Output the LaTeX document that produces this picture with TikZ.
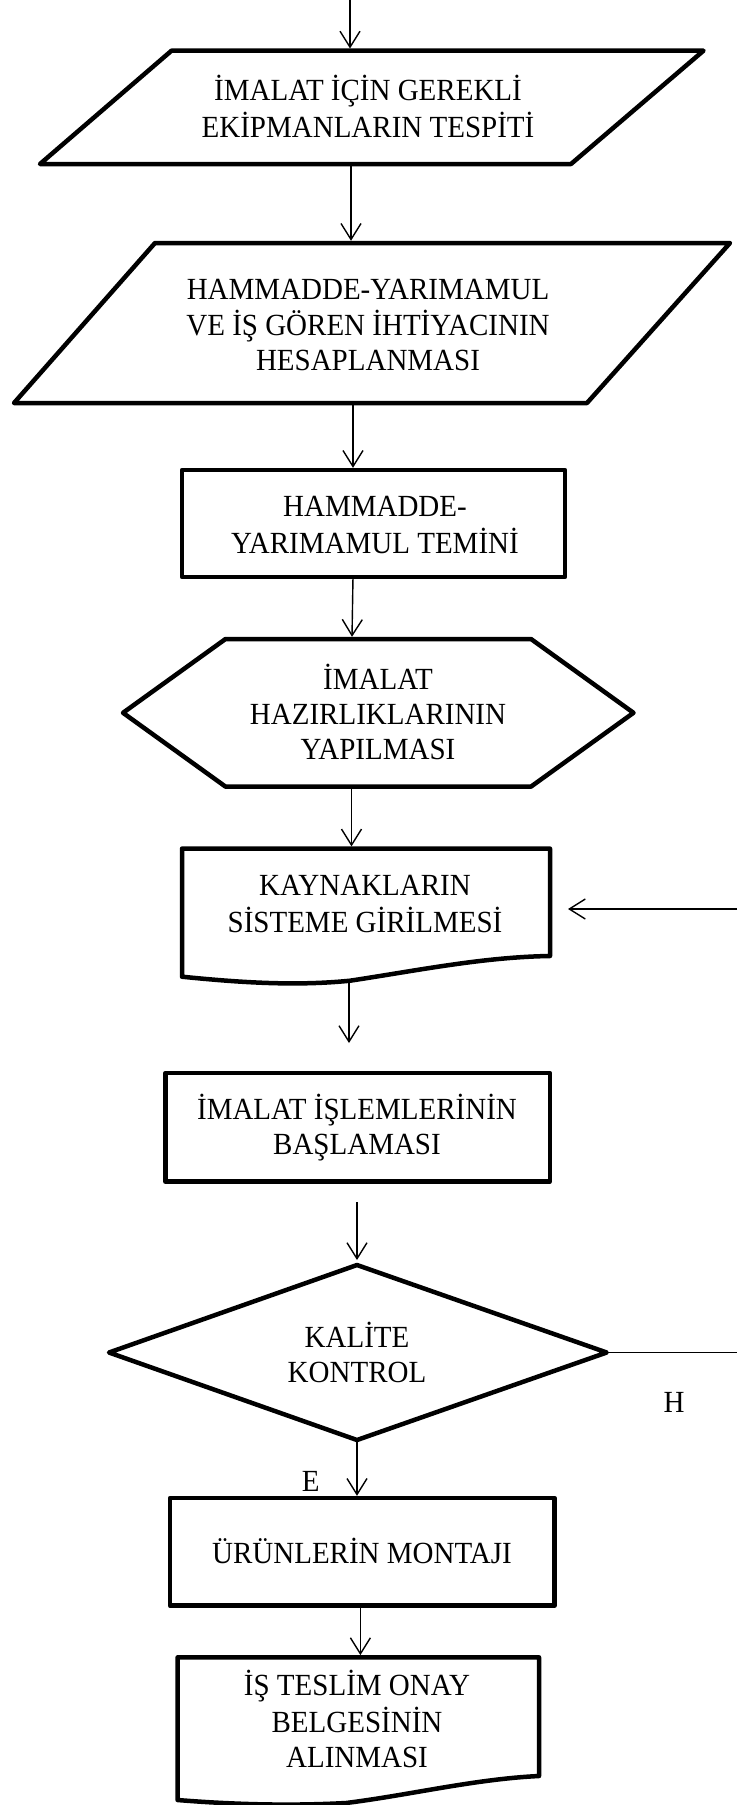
\documentclass[tikz,border=0pt]{standalone}
\usepackage{fontspec}
\setmainfont{Liberation Serif}
\usetikzlibrary{arrows.meta}
\begin{document}
\begin{tikzpicture}[x=1pt,y=-1pt,
  outline/.style={line width=4.5pt, line join=round},
  conn/.style={line width=1.4pt, -{Straight Barb[length=16pt,width=20pt]}},
  wire/.style={line width=1.4pt},
  boxtext/.style={font=\fontsize{29}{33}\selectfont, align=center, inner sep=0pt, yscale=1.06},
  tag/.style={font=\fontsize{29}{33}\selectfont, inner sep=0pt, yscale=1.06},
]
\useasboundingbox (0,0) rectangle (737,1805);

% --- shape outlines ---
% input/output parallelograms
\draw[outline] (171.5,50.7) -- (703.5,50.7) -- (571,164) -- (40,164) -- cycle;
\draw[outline] (155,243) -- (730,243) -- (587,403) -- (14,403) -- cycle;
% process box
\draw[outline] (182,470) rectangle (565,577);
% preparation hexagon
\draw[outline] (123,712.8) -- (225.5,639) -- (531,639) -- (633.5,712.8)
  -- (531,786.6) -- (225.5,786.6) -- cycle;
% document shape
\draw[outline] (182,848.6) -- (550,848.6) -- (550,956)
  .. controls (483,957) and (417,970.6) .. (350,980.7)
  .. controls (294,986.3) and (238,982.3) .. (182,976.7) -- cycle;
% process box
\draw[outline] (165.4,1073) rectangle (549.8,1181.7);
% decision diamond
\draw[outline] (357,1265) -- (606.7,1352.5) -- (357,1440) -- (109,1352.5) -- cycle;
% process box
\draw[outline] (170,1498) rectangle (554.5,1605.7);
% document shape
\draw[outline] (177.6,1657.3) -- (539,1657.3) -- (539,1776)
  .. controls (475,1779) and (410,1795) .. (346,1803)
  .. controls (290,1806) and (233,1804.5) .. (177.6,1800) -- cycle;

% --- texts (strut per line keeps the vertical centring uniform) ---
\node[boxtext] (t1) at (368,112) {\strut İMALAT İÇİN GEREKLİ\\\strut EKİPMANLARIN TESPİTİ};
\node[boxtext] (t2) at (368,328) {\strut HAMMADDE-YARIMAMUL\\\strut VE İŞ GÖREN İHTİYACININ\\\strut HESAPLANMASI};
\node[boxtext] (t3) at (375,528.4) {\strut HAMMADDE-\\\strut YARIMAMUL TEMİNİ};
\node[boxtext] (t4) at (378,717) {\strut İMALAT\\\strut HAZIRLIKLARININ\\\strut YAPILMASI};
\node[boxtext] (t5) at (365,907.1) {\strut KAYNAKLARIN\\\strut SİSTEME GİRİLMESİ};
\node[boxtext] (t6) at (357,1129.6) {\strut İMALAT İŞLEMLERİNİN\\\strut BAŞLAMASI};
\node[boxtext] (t7) at (357,1357.5) {\strut KALİTE\\\strut KONTROL};
\node[boxtext] (t8) at (362,1556.1) {\strut ÜRÜNLERİN MONTAJI};
\node[boxtext] (t9) at (357,1724.1) {\strut İŞ TESLİM ONAY\\\strut BELGESİNİN\\\strut ALINMASI};
\node[tag] (yes) at (310.7,1481) {E};
\node[tag] (no) at (674,1402) {H};

% --- connection points ---
\coordinate (entry)  at (350,0);
\coordinate (p1-n)   at (350,48.5);
\coordinate (p1-s)   at (351,164);
\coordinate (p2-n)   at (351,240.8);
\coordinate (p2-s)   at (353,403);
\coordinate (r1-n)   at (353,467.8);
\coordinate (r1-s)   at (353,577);
\coordinate (hx-n)   at (352,636.8);
\coordinate (hx-s)   at (351.5,786.6);
\coordinate (d1-n)   at (351.5,846.4);
\coordinate (d1-s)   at (349,981.5);
\coordinate (d1-out) at (349,1043);
\coordinate (r2-out) at (357,1202);
\coordinate (dc-n)   at (357,1260);
\coordinate (dc-e)   at (606.7,1352.5);
\coordinate (dc-s)   at (357,1440);
\coordinate (no-out) at (737,1352.5);
\coordinate (back)   at (737,909);
\coordinate (back-e) at (568,909);
\coordinate (r3-n)   at (357,1495.8);
\coordinate (r3-s)   at (360.4,1605.7);
\coordinate (d2-n)   at (360.4,1655.1);

% --- connectors ---
\draw[conn] (entry) -- (p1-n);
\draw[conn] (p1-s) -- (p2-n);
\draw[conn] (p2-s) -- (r1-n);
\draw[conn] (r1-s) -- (hx-n);
\draw[conn] (hx-s) -- (d1-n);
\draw[conn] (back) -- (back-e);
\draw[conn] (d1-s) -- (d1-out);
\draw[conn] (r2-out) -- (dc-n);
\draw[wire] (dc-e) -- (no-out);
\draw[conn] (dc-s) -- (r3-n);
\draw[conn] (r3-s) -- (d2-n);
\end{tikzpicture}
\end{document}
